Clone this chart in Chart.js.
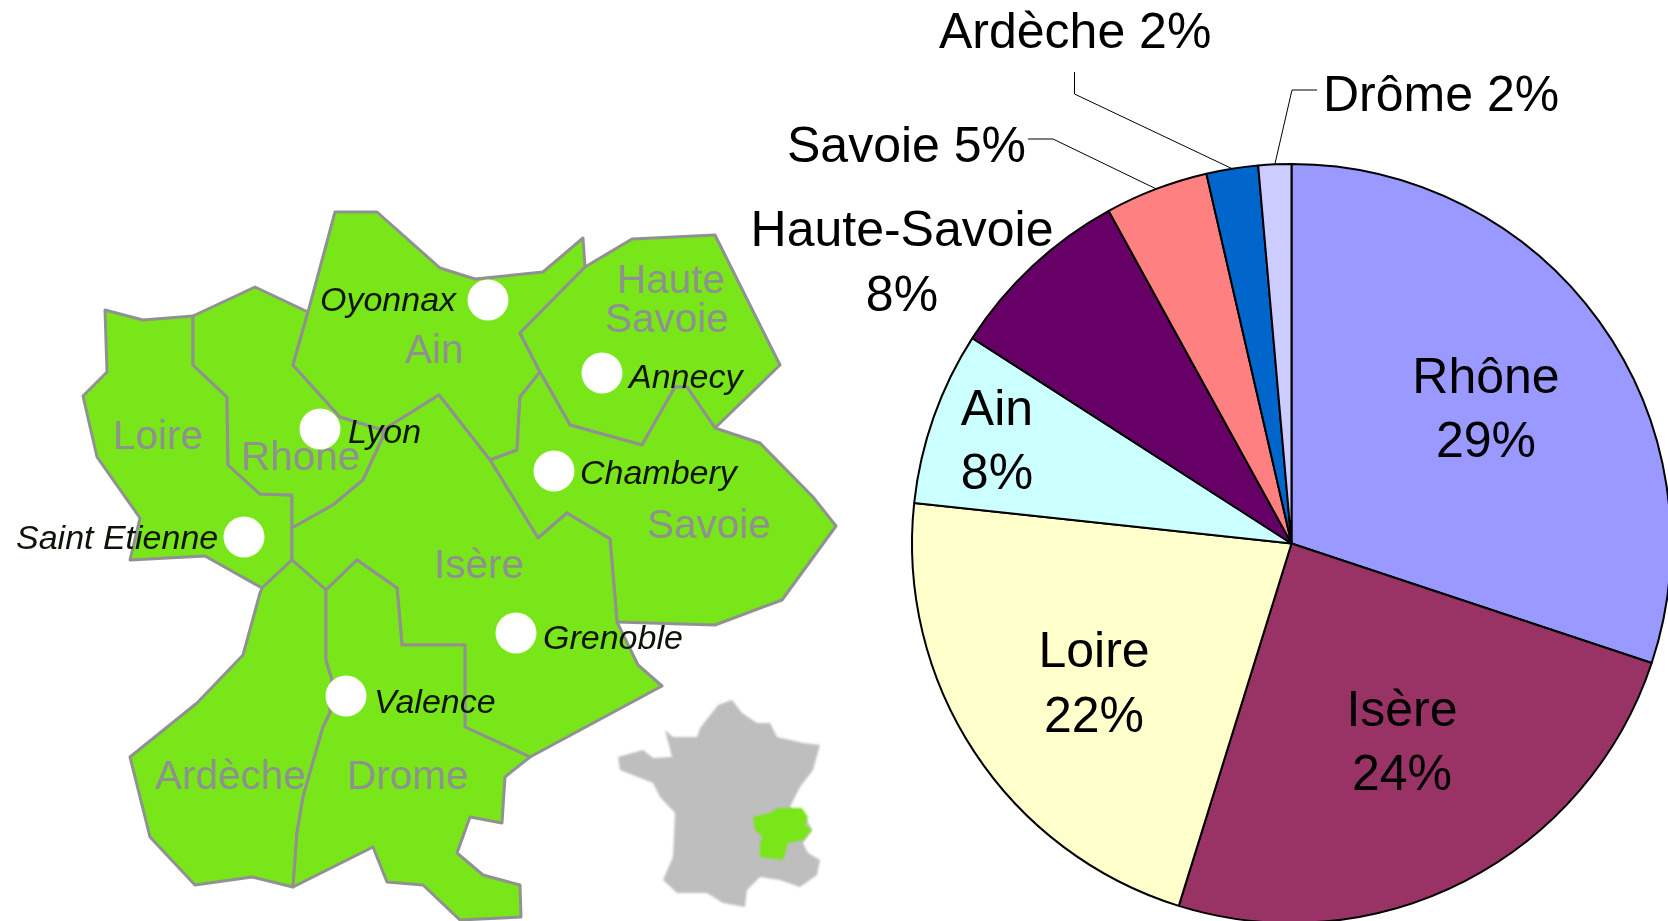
<!DOCTYPE html>
<html lang="fr">
<head>
<meta charset="utf-8">
<title>Rhône-Alpes</title>
<script src="https://cdn.jsdelivr.net/npm/chart.js@4"></script>
<style>
html,body{margin:0;padding:0;width:1668px;height:921px;overflow:hidden;background:#fff}
#map{position:absolute;left:0;top:0;width:1668px;height:921px;filter:blur(.5px)}
#pie{position:absolute;left:0;top:0}
svg text{font-family:"Liberation Sans",Arial,sans-serif}
.reg{font-size:40.5px;fill:#8f9090}
.city{font-size:34px;font-style:italic;fill:#0c1408}
.fr{filter:blur(1px)}
</style>
</head>
<body>
<svg id="map" viewBox="0 0 1668 921" xmlns="http://www.w3.org/2000/svg"></svg>
<canvas id="pie" width="1700" height="960"></canvas>
<script>
// ---- chart data ----
const categories = ["Rhône","Isère","Loire","Ain","Haute-Savoie","Savoie","Ardèche","Drôme"];
const sliceValues = [30.1,24.7,21.9,7.4,7.9,4.4,2.2,1.4];
const percentLabels = ["29%","24%","22%","8%","8%","5%","2%","2%"];
const sliceColors = ["#9999FF","#993366","#FFFFCC","#CCFFFF","#660066","#FF8080","#0066CC","#CCCCFF"];

// ---- label layout for the pie (page pixels) ----
const twoLine = {
  "Rhône":[1486,393,457],"Isère":[1402,726,790],"Loire":[1094,667,732],
  "Ain":[997,425,489],"Haute-Savoie":[902,246,311]
};
const oneLine = {"Savoie":[787,162],"Ardèche":[939,48],"Drôme":[1323,111]};
const leaders = {
  "Savoie":[[1028,139],[1053,139]],
  "Ardèche":[[1074.5,72],[1074.5,94]],
  "Drôme":[[1317,90],[1292,90]]
};

// ---- background map geometry (decorative, page pixels) ----
const regions = [
 [[105,310],[143,320],[193,316],[193,365],[227,397],[228,465],[260,494],[292,495],[292,560],[262,588],[205,556],[130,560],[140,518],[97,457],[83,396],[107,372]],
 [[193,316],[255,287],[308,312],[293,365],[340,417],[383,430],[383,437],[363,480],[333,505],[292,528],[292,495],[260,494],[228,465],[227,397],[193,365]],
 [[335,212],[377,212],[440,268],[475,279],[543,272],[583,238],[585,267],[520,333],[540,372],[520,397],[517,450],[490,460],[439,395],[383,430],[340,417],[293,365],[308,312]],
 [[585,267],[632,239],[715,235],[780,365],[715,428],[687,387],[675,387],[642,445],[570,425],[540,372],[520,333]],
 [[540,372],[570,425],[642,445],[675,387],[687,387],[715,428],[760,443],[813,497],[836,526],[782,600],[715,625],[617,622],[610,539],[567,513],[538,538],[490,460],[517,450],[520,397]],
 [[292,528],[333,505],[363,480],[383,437],[383,430],[439,395],[490,460],[538,538],[567,513],[610,539],[617,622],[638,665],[662,686],[530,757],[465,727],[465,645],[402,645],[397,588],[357,560],[326,590],[292,560]],
 [[292,560],[326,590],[326,660],[332,680],[330,713],[323,727],[303,797],[297,833],[293,887],[252,877],[195,885],[150,837],[130,757],[197,703],[243,655],[260,593],[262,588]],
 [[326,590],[357,560],[397,588],[402,645],[465,645],[465,727],[530,757],[505,777],[502,823],[470,817],[457,853],[483,875],[520,885],[521,917],[460,920],[423,885],[387,882],[373,847],[297,885],[293,887],[297,833],[303,797],[323,727],[330,713],[332,680],[326,660]]
];
const franceOutline = [[718,705],[732,700],[742,713],[757,723],[770,723],[777,737],[803,743],[820,745],[813,770],[800,787],[790,807],[807,820],[812,830],[803,843],[808,853],[820,860],[817,875],[800,887],[780,880],[760,877],[747,890],[745,907],[723,903],[707,893],[677,893],[663,880],[673,857],[675,813],[660,797],[653,783],[620,770],[618,757],[643,750],[653,758],[672,757],[665,730],[673,737],[697,737],[700,728]];
const franceRegion = [[753,817],[770,813],[778,808],[802,808],[808,817],[805,825],[812,830],[803,840],[788,843],[783,860],[760,857],[760,843],[763,837],[755,830]];
const regionLabels = [["Loire",113,449],["Rhone",241,470],["Ain",405,363],["Haute",617,293],["Savoie",605,332],["Savoie",647,538],["Isère",434,578],["Ardèche",155,789],["Drome",347,789]];
const cityDots = [[488,300],[602,373],[554,471],[320,429],[244,537],[346,696],[516,633]];
const cityLabels = [["Oyonnax",320,311],["Annecy",629,388],["Chambery",580,484],["Lyon",348,443],["Saint Etienne",16,549],["Valence",374,713],["Grenoble",543,649]];

const svg = document.getElementById("map");
const NS = "http://www.w3.org/2000/svg";
function add(tag, attrs, text){
  const el = document.createElementNS(NS, tag);
  for (const k in attrs) el.setAttribute(k, attrs[k]);
  if (text) el.textContent = text;
  svg.appendChild(el);
}
const pts = a => a.map(p => p.join(",")).join(" ");
regions.forEach(r => add("polygon",{points:pts(r),fill:"#78E619",stroke:"#919191","stroke-width":3,"stroke-linejoin":"round"}));
add("polygon",{points:pts(franceOutline),fill:"#BEBEBE",class:"fr"});
add("polygon",{points:pts(franceRegion),fill:"#78E619",class:"fr"});
regionLabels.forEach(l => add("text",{x:l[1],y:l[2],class:"reg"},l[0]));
cityDots.forEach(d => add("circle",{cx:d[0],cy:d[1],r:20.5,fill:"#fff"}));
cityLabels.forEach(l => add("text",{x:l[1],y:l[2],class:"city"},l[0]));

const pieLabels = {
  id:"pieLabels",
  afterDatasetsDraw(chart){
    const c = chart.ctx, arcs = chart.getDatasetMeta(0).data;
    c.save();
    c.strokeStyle = "#000"; c.lineWidth = 1;
    categories.forEach((name,i)=>{
      const path = leaders[name];
      if(!path) return;
      const a = arcs[i], mid = (a.startAngle+a.endAngle)/2;
      c.beginPath();
      c.moveTo(path[0][0],path[0][1]);
      c.lineTo(path[1][0],path[1][1]);
      c.lineTo(a.x+Math.cos(mid)*a.outerRadius, a.y+Math.sin(mid)*a.outerRadius);
      c.stroke();
    });
    c.fillStyle = "#000";
    c.font = '50px "Liberation Sans", Arial, sans-serif';
    c.textBaseline = "alphabetic";
    categories.forEach((name,i)=>{
      if(twoLine[name]){
        const [x,y1,y2] = twoLine[name];
        c.textAlign = "center";
        c.fillText(name,x,y1);
        c.fillText(percentLabels[i],x,y2);
      } else {
        const [x,y] = oneLine[name];
        c.textAlign = "left";
        c.fillText(name+" "+percentLabels[i],x,y);
      }
    });
    c.restore();
  }
};

new Chart(document.getElementById("pie"),{
  type:"pie",
  data:{labels:categories,datasets:[{data:sliceValues,backgroundColor:sliceColors,borderColor:"#000",borderWidth:2,borderAlign:"center"}]},
  options:{
    responsive:false,animation:false,
    layout:{padding:{left:911,right:28,top:163,bottom:36}},
    plugins:{legend:{display:false},tooltip:{enabled:false},title:{display:false}}
  },
  plugins:[pieLabels]
});
</script>
</body>
</html>
